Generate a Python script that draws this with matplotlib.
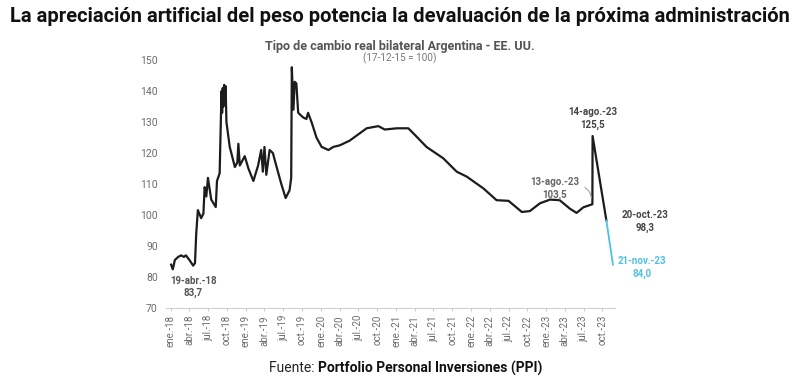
import matplotlib
matplotlib.use("Agg")
import matplotlib.pyplot as plt
import pandas as pd

# Serie: tipo de cambio real bilateral Argentina - EE. UU. (17-12-15 = 100)
fechas = [
    "2018-01-02", "2018-01-10", "2018-01-20", "2018-02-05", "2018-02-20", "2018-03-05",
    "2018-03-15", "2018-04-01", "2018-04-19", "2018-04-28", "2018-05-04", "2018-05-12",
    "2018-05-28", "2018-06-08", "2018-06-14", "2018-06-22", "2018-06-30", "2018-07-16",
    "2018-08-07", "2018-08-13", "2018-08-26", "2018-09-04", "2018-09-07", "2018-09-10",
    "2018-09-13", "2018-09-17", "2018-09-20", "2018-09-24", "2018-09-28", "2018-10-14",
    "2018-11-08", "2018-11-20", "2018-11-25", "2018-12-02", "2018-12-26", "2019-01-13",
    "2019-02-06", "2019-03-01", "2019-03-16", "2019-03-24", "2019-04-01", "2019-04-10",
    "2019-04-26", "2019-05-12", "2019-05-28", "2019-06-22", "2019-07-13", "2019-08-01",
    "2019-08-09", "2019-08-12", "2019-08-20", "2019-08-26", "2019-09-03", "2019-09-12",
    "2019-10-06", "2019-10-22", "2019-10-30", "2019-11-16", "2019-12-10", "2020-01-04",
    "2020-02-06", "2020-03-01", "2020-04-01", "2020-05-19", "2020-08-10", "2020-10-06",
    "2020-11-06", "2021-01-04", "2021-03-01", "2021-04-10", "2021-05-28", "2021-08-18",
    "2021-10-22", "2021-12-10", "2022-03-01", "2022-05-04", "2022-07-01", "2022-09-04",
    "2022-10-13", "2022-12-01", "2023-01-19", "2023-03-07", "2023-04-25", "2023-05-28",
    "2023-06-30", "2023-08-13", "2023-08-14", "2023-10-20",
]
valores = [
    84.0, 82.5, 85.5, 86.5, 87.0, 86.5,
    87.0, 85.5, 83.7, 84.5, 94.0, 101.6,
    99.0, 100.5, 109.0, 106.0, 112.0, 105.0,
    102.6, 111.0, 113.5, 140.0, 133.0, 141.0,
    135.0, 142.0, 136.0, 141.6, 130.0, 122.0,
    115.5, 117.0, 123.0, 116.0, 119.0, 115.0,
    111.0, 116.0, 121.0, 114.0, 122.0, 113.0,
    121.0, 120.0, 116.0, 110.0, 105.5, 108.0,
    112.0, 147.7, 134.0, 143.0, 142.5, 133.0,
    131.5, 131.0, 133.0, 130.0, 125.0, 122.0,
    121.0, 122.0, 122.5, 124.0, 128.0, 128.7,
    127.6, 128.0, 128.0, 125.3, 122.0, 118.3,
    114.0, 112.4, 108.6, 104.8, 104.6, 101.0,
    101.3, 103.8, 105.0, 104.8, 102.1, 100.7,
    102.5, 103.5, 125.5, 98.3,
]
fechas_proy = ["2023-10-20", "2023-11-21"]
valores_proy = [98.3, 84.0]

ticks_x = pd.date_range("2018-01-01", "2023-10-01", freq="QS")
meses = {1: "ene.", 4: "abr.", 7: "jul.", 10: "oct."}
etiquetas_x = [f"{meses[d.month]}-{d.strftime('%y')}" for d in ticks_x]

gris = "#6b6b6b"
negro = "#1c1c1c"
celeste = "#4fc0e6"

plt.rcParams["font.family"] = ["Roboto", "DejaVu Sans"]

fig = plt.figure(figsize=(8, 3.78), dpi=100)
ax = fig.add_axes([0.2075, 0.185, 0.5615, 0.656])

ax.plot(pd.to_datetime(fechas), valores, color=negro, linewidth=1.6)
ax.plot(pd.to_datetime(fechas_proy), valores_proy, color=celeste, linewidth=1.3)

ax.set_ylim(70, 150)
ax.set_yticks(range(70, 151, 10))
ax.set_xlim(pd.Timestamp("2017-12-08"), pd.Timestamp("2023-12-02"))
ax.set_xticks(ticks_x)
ax.set_xticklabels(etiquetas_x, rotation=90, fontsize=7, color=gris)
ax.tick_params(axis="y", length=0, labelsize=7.5, labelcolor=gris, pad=6)
ax.tick_params(axis="x", length=2, color="#cccccc", pad=3)
for s in ["top", "right", "left"]:
    ax.spines[s].set_visible(False)
ax.spines["bottom"].set_color("#d0d0d0")

# Etiquetas de puntos
kw = dict(ha="center", va="center", fontsize=7, fontweight="bold", linespacing=1.3)
ax.text(pd.Timestamp("2018-04-19"), 76.8, "19-abr.-18\n83,7", color="#555555", **kw)
ax.text(pd.Timestamp("2023-02-10"), 108.6, "13-ago.-23\n103,5", color="#666666", **kw)
ax.text(pd.Timestamp("2023-08-14"), 131.1, "14-ago.-23\n125,5", color="#444444", **kw)
ax.text(pd.Timestamp("2024-04-25"), 98.0, "20-oct.-23\n98,3", color="#444444", **kw)
ax.text(pd.Timestamp("2024-04-10"), 83.0, "21-nov.-23\n84,0", color=celeste, **kw)
ax.annotate("", xy=(pd.Timestamp("2023-08-08"), 104.6),
            xytext=(pd.Timestamp("2023-06-25"), 109.3),
            arrowprops=dict(arrowstyle="-", color="#9a9a9a", lw=0.7,
                            connectionstyle="arc3,rad=-0.35"))

fig.text(0.5, 0.956, "La apreciación artificial del peso potencia la devaluación de la próxima administración",
         ha="center", va="center", fontsize=14.5, fontweight="bold", color="#111111")
fig.text(0.5, 0.878, "Tipo de cambio real bilateral Argentina - EE. UU.",
         ha="center", va="center", fontsize=9, fontweight="bold", color="#555555")
fig.text(0.5, 0.845, "(17-12-15 = 100)", ha="center", va="center", fontsize=7.2, color="#777777")
fig.text(0.398, 0.026, "Fuente: ", ha="right", va="center", fontsize=10, color="#222222")
fig.text(0.398, 0.026, "Portfolio Personal Inversiones (PPI)", ha="left", va="center",
         fontsize=10, fontweight="bold", color="#111111")

fig.savefig("out.png", dpi=100)
